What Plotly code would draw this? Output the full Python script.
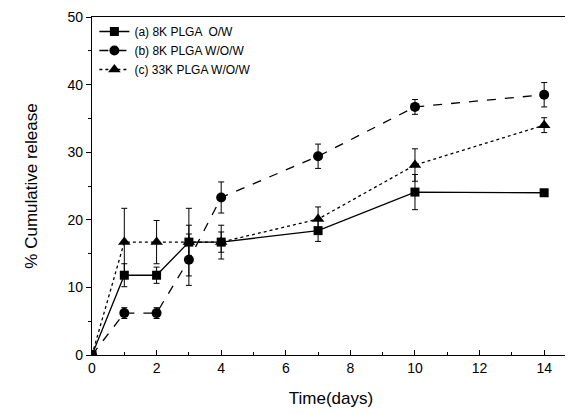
import plotly.graph_objects as go

days = [0, 1, 2, 3, 4, 7, 10, 14]

a_vals = [0, 11.8, 11.8, 16.7, 16.7, 18.4, 24.1, 24.0]
a_err = [0, 1.7, 1.2, 2.5, 1.5, 1.6, 2.6, 0.3]

b_vals = [0, 6.2, 6.2, 14.1, 23.3, 29.4, 36.7, 38.5]
b_err = [0, 0.8, 0.8, 3.8, 2.3, 1.8, 1.1, 1.8]

c_vals = [0, 16.7, 16.7, 16.7, 16.7, 20.1, 28.1, 34.0]
c_err = [0, 5.0, 3.2, 5.0, 2.5, 1.8, 2.4, 1.1]

names = ["(a) 8K PLGA  O/W", "(b) 8K PLGA W/O/W", "(c) 33K PLGA W/O/W"]

fig = go.Figure()
specs = [
    (a_vals, a_err, names[0], "square", "solid", 9),
    (b_vals, b_err, names[1], "circle", "dash", 10),
    (c_vals, c_err, names[2], "triangle-up", "dot", 11),
]
for vals, err, name, sym, dash, ms in specs:
    fig.add_trace(go.Scatter(
        x=days, y=vals, name=name, mode="lines+markers",
        line=dict(color="black", width=1.3, dash=dash),
        marker=dict(symbol=sym, size=ms, color="black"),
        error_y=dict(type="data", array=err, visible=True, color="black",
                     thickness=1, width=3),
    ))

font = "Liberation Sans, Arial, sans-serif"
fig.update_layout(
    width=565, height=406,
    margin=dict(l=84, r=3, t=9, b=59),
    paper_bgcolor="white", plot_bgcolor="white",
    font=dict(family=font, color="black", size=14),
    showlegend=True,
    legend=dict(x=0.005, y=1.0, xanchor="left", yanchor="top",
                bgcolor="rgba(0,0,0,0)", font=dict(size=12, family=font),
                tracegroupgap=0, itemwidth=30),
)
fig.update_xaxes(
    range=[0, 14.8], tickvals=[0, 2, 4, 6, 8, 10, 12, 14],
    ticks="inside", ticklen=5, tickcolor="black",
    minor=dict(dtick=1, ticks="inside", ticklen=3, tickcolor="black"),
    showline=True, linecolor="black", linewidth=1.2, mirror=True,
    showgrid=False, zeroline=False, automargin=False,
    ticklabeloverflow="allow",
    title=dict(text="Time(days)", font=dict(size=17), standoff=17),
    tickfont=dict(size=14),
)
fig.update_yaxes(
    range=[0, 50], tickvals=[0, 10, 20, 30, 40, 50],
    ticks="outside", ticklen=5, tickcolor="black",
    minor=dict(dtick=5, ticks="outside", ticklen=3, tickcolor="black"),
    showline=True, linecolor="black", linewidth=1.2, mirror=True,
    showgrid=False, zeroline=False, automargin=False,
    ticklabeloverflow="allow",
    title=dict(text="% Cumulative release", font=dict(size=17), standoff=25),
    tickfont=dict(size=14),
)
fig.write_html("out.html")
